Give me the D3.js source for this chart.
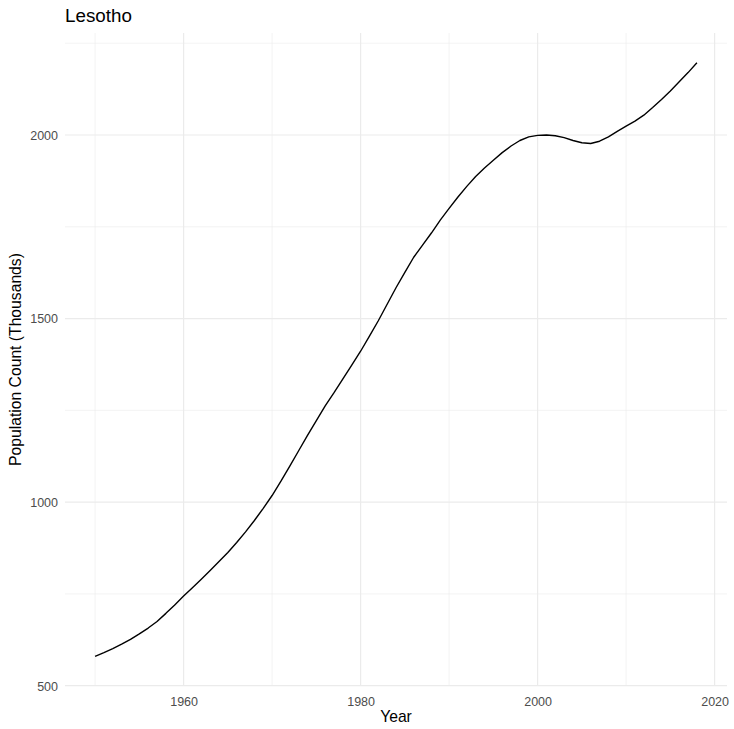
<!DOCTYPE html>
<html>
<head>
<meta charset="utf-8">
<script src="https://cdn.jsdelivr.net/npm/d3@7"></script>
<style>
  html, body { margin: 0; padding: 0; background: #ffffff; }
  svg { display: block; font-family: "Liberation Sans", Arial, Helvetica, sans-serif; }
</style>
</head>
<body>
<svg id="chart" width="734" height="729"></svg>
<script>
const title = "Lesotho";
const xTitle = "Year";
const yTitle = "Population Count (Thousands)";
const years = d3.range(1950, 2019);
const population = [
  580, 590, 601, 613, 626, 641, 657, 675, 697, 720,
  744, 767, 790, 814, 838, 863, 890, 919, 950, 983,
  1018, 1057, 1098, 1140, 1182, 1222, 1262, 1298, 1336, 1373,
  1411, 1452, 1494, 1539, 1584, 1626, 1667, 1700, 1733, 1768,
  1800, 1831, 1860, 1887, 1910, 1931, 1952, 1970, 1985, 1995,
  1999, 2000, 1998, 1993, 1985, 1979, 1977, 1983, 1995, 2010,
  2024, 2038, 2054, 2075, 2097, 2120, 2145, 2170, 2197
];
const xTicks = [1960, 1980, 2000, 2020];
const xMinor = [1950, 1970, 1990, 2010];
const yTicks = [500, 1000, 1500, 2000];
const yMinor = [750, 1250, 1750, 2250];

const data = years.map((y, i) => ({ year: y, value: population[i] }));

const svg = d3.select("#chart");
const panel = { left: 65, right: 727, top: 33, bottom: 686 };

const xExt = d3.extent(years);
const xPad = (xExt[1] - xExt[0]) * 0.05;
const yExt = d3.extent(population);
const yPad = (yExt[1] - yExt[0]) * 0.05;

const x = d3.scaleLinear().domain([xExt[0] - xPad, xExt[1] + xPad]).range([panel.left, panel.right]);
const y = d3.scaleLinear().domain([yExt[0] - yPad, yExt[1] + yPad]).range([panel.bottom, panel.top]);

const grid = svg.append("g");
// minor gridlines
grid.selectAll("line.ymin").data(yMinor.filter(v => v >= y.domain()[0] && v <= y.domain()[1]))
  .join("line").attr("x1", panel.left).attr("x2", panel.right)
  .attr("y1", d => y(d)).attr("y2", d => y(d))
  .attr("stroke", "#ebebeb").attr("stroke-width", 0.6);
grid.selectAll("line.xmin").data(xMinor)
  .join("line").attr("y1", panel.top).attr("y2", panel.bottom)
  .attr("x1", d => x(d)).attr("x2", d => x(d))
  .attr("stroke", "#ebebeb").attr("stroke-width", 0.6);
// major gridlines
grid.selectAll("line.ymaj").data(yTicks)
  .join("line").attr("x1", panel.left).attr("x2", panel.right)
  .attr("y1", d => y(d)).attr("y2", d => y(d))
  .attr("stroke", "#ebebeb").attr("stroke-width", 1.2);
grid.selectAll("line.xmaj").data(xTicks)
  .join("line").attr("y1", panel.top).attr("y2", panel.bottom)
  .attr("x1", d => x(d)).attr("x2", d => x(d))
  .attr("stroke", "#ebebeb").attr("stroke-width", 1.2);

// axes (labels only, no domain/ticks)
const xAxis = svg.append("g").attr("transform", `translate(0,${panel.bottom})`)
  .call(d3.axisBottom(x).tickValues(xTicks).tickFormat(d3.format("d")).tickSize(0).tickPadding(11));
const yAxis = svg.append("g").attr("transform", `translate(${panel.left},0)`)
  .call(d3.axisLeft(y).tickValues(yTicks).tickFormat(d3.format("d")).tickSize(0).tickPadding(7));
[xAxis, yAxis].forEach(a => {
  a.select(".domain").remove();
  a.selectAll("text").attr("fill", "#4d4d4d").style("font-size", "12.5px")
    .style("font-family", "'Liberation Sans', Arial, Helvetica, sans-serif");
});
yAxis.selectAll("text").attr("dy", "0.35em");

// line
svg.append("path").datum(data)
  .attr("fill", "none").attr("stroke", "#000000").attr("stroke-width", 1.4)
  .attr("stroke-linejoin", "round")
  .attr("d", d3.line().x(d => x(d.year)).y(d => y(d.value)));

// titles
svg.append("text").attr("x", panel.left).attr("y", 22)
  .attr("fill", "#000").style("font-size", "18.8px").text(title);
svg.append("text").attr("x", (panel.left + panel.right) / 2).attr("y", 722)
  .attr("text-anchor", "middle").attr("fill", "#000").style("font-size", "15.7px").text(xTitle);
svg.append("text")
  .attr("transform", `translate(21,${(panel.top + panel.bottom) / 2}) rotate(-90)`)
  .attr("text-anchor", "middle").attr("fill", "#000").style("font-size", "15.7px").text(yTitle);
</script>
</body>
</html>
